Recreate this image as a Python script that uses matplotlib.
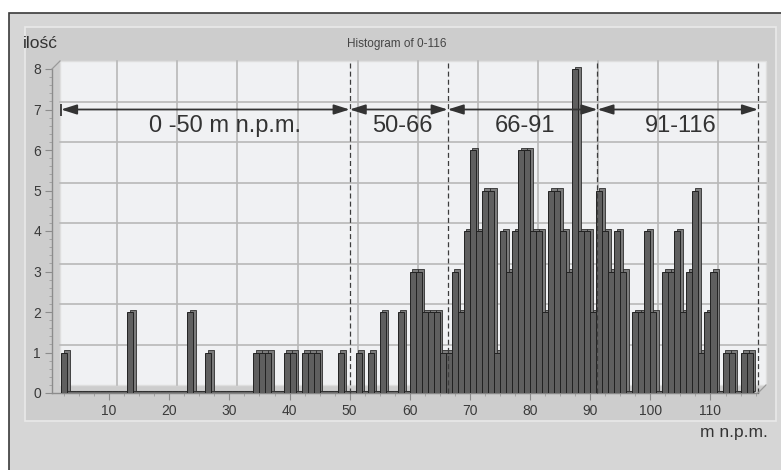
import numpy as np
import matplotlib
matplotlib.use("Agg")
import matplotlib.pyplot as plt
from matplotlib.patches import Rectangle
from matplotlib.lines import Line2D
from matplotlib.ticker import MultipleLocator
from matplotlib.transforms import offset_copy

plt.rcParams['font.family'] = ['Liberation Sans', 'DejaVu Sans']

# histogram bins (left edge, width 1 m) and counts
bin_edges = np.arange(2, 117)
counts = [1, 0, 0, 0, 0, 0, 0, 0, 0, 0, 0, 2, 0, 0, 0, 0, 0, 0, 0, 0, 0,   # 2-22
          2, 0, 0, 1, 0, 0, 0, 0, 0, 0, 0,                                  # 23-33
          1, 1, 1, 0, 0, 1, 1, 0, 1, 1, 1, 0, 0, 0, 1, 0, 0,                # 34-50
          1, 0, 1, 0, 2, 0, 0, 2, 0, 3, 3, 2, 2, 2, 1, 1,                   # 51-66
          3, 2, 4, 6, 4, 5, 5, 1, 4, 3, 4, 6, 6, 4, 4, 2, 5, 5, 4, 3,       # 67-86
          8, 4, 4, 2,                                                       # 87-90
          5, 4, 3, 4, 3, 0, 2, 2, 4, 2, 0, 3, 3, 4, 2, 3, 5, 1, 2, 3,       # 91-110
          0, 1, 1, 0, 1, 1]                                                 # 111-116

# altitude class boundaries (dashed lines) and their labels
boundaries = [2, 50, 66.3, 91.2, 117.9]
class_labels = ['0 -50 m n.p.m.', '50-66', '66-91', '91-116']
label_x = [29.3, 58.7, 79.1, 105.1]
arrow_y = 7
label_y = 6.44

x_min, x_max = 0.5, 117.9
y_max = 8

W, H = 781, 470
fig = plt.figure(figsize=(W / 100, H / 100), dpi=100)
fig.patch.set_facecolor('white')

# outer frame and chart panel
fig.patches.append(Rectangle((9 / W, -0.1), 1.2, 1 - 13 / H + 0.1,
                             transform=fig.transFigure, facecolor='#d6d6d6',
                             edgecolor='#3a3a3a', lw=1.2, zorder=-3))
fig.patches.append(Rectangle((25 / W, 1 - 421 / H), 751 / W, 394 / H,
                             transform=fig.transFigure, facecolor='#cdcdcd',
                             edgecolor='#e9e9e9', lw=1.2, zorder=-2))

ax = fig.add_axes([52 / W, 1 - 393 / H, 706 / W, 324 / H])
ax.patch.set_visible(False)
ax.set_xlim(x_min, x_max)
ax.set_ylim(0, y_max)

# 3D back wall with grid
wall = offset_copy(ax.transData, x=8, y=8, units='dots')
ax.add_patch(Rectangle((x_min, 0), x_max - x_min, y_max, transform=wall,
                       facecolor='#f0f1f3', edgecolor='#dedede', lw=1,
                       zorder=0, clip_on=False))
for xv in range(10, 111, 10):
    ax.plot([xv, xv], [0, y_max], transform=wall, color='#b8b8b8', lw=1.2,
            zorder=0.5, clip_on=False)
for yv in range(1, y_max):
    ax.plot([x_min, x_max], [yv, yv], transform=wall, color='#b8b8b8', lw=1.2,
            zorder=0.5, clip_on=False)

fig.canvas.draw()
for pt in [(x_min, y_max), (x_max, 0)]:
    a = ax.transData.transform(pt)
    b = wall.transform(pt)
    fig.add_artist(Line2D([a[0], b[0]], [a[1], b[1]], transform=None,
                          color='#9a9a9a', lw=0.9))

# bars with a small 3D extrusion; zero bins show as a dark floor strip
shade = offset_copy(ax.transData, x=2.5, y=2.5, units='dots')
ax.plot([bin_edges[0], bin_edges[-1] + 1], [0, 0],
        transform=offset_copy(ax.transData, x=1.2, y=1.2, units='dots'),
        color='#3c3c3c', lw=2.2, solid_capstyle='butt', zorder=2.5,
        clip_on=False)
ax.plot([bin_edges[0], bin_edges[-1] + 1], [0, 0],
        transform=offset_copy(ax.transData, x=1.2, y=1.2, units='dots'),
        color='#6a6a6a', lw=1.0, solid_capstyle='butt', zorder=2.6,
        clip_on=False)
ax.bar(bin_edges, counts, width=1, align='edge', color='#7b7b7b',
       edgecolor='#2e2e2e', lw=0.6, transform=shade, zorder=2.7, clip_on=False)
ax.bar(bin_edges, counts, width=1, align='edge', color='#5f5f5f',
       edgecolor='#222222', lw=0.7, zorder=3)

# class boundaries, arrows and labels
ax.vlines(boundaries[1:], 0, 8.17, colors='#3c3c3c', linestyles=(0, (4, 2.5)),
          lw=0.9, zorder=4, clip_on=False)
for i in range(len(class_labels)):
    ax.annotate('', xy=(boundaries[i + 1], arrow_y), xytext=(boundaries[i], arrow_y),
                arrowprops=dict(arrowstyle='<|-|>,head_length=0.95,head_width=0.3',
                                color='#333333', lw=1.3, shrinkA=0, shrinkB=0),
                zorder=5)
    ax.text(label_x[i], label_y, class_labels[i], ha='center', va='baseline',
            fontsize=17, color='#333333', zorder=6)
ax.plot([boundaries[0]], [arrow_y], marker='|', ms=8, mew=1.3, color='#333333',
        zorder=5)

# axes styling
for s in ['top', 'right']:
    ax.spines[s].set_visible(False)
for s in ['left', 'bottom']:
    ax.spines[s].set_color('#8c8c8c')
    ax.spines[s].set_linewidth(1.0)
ax.set_xticks(range(10, 111, 10))
ax.set_yticks(range(0, y_max + 1))
ax.xaxis.set_minor_locator(MultipleLocator(2.5))
ax.yaxis.set_minor_locator(MultipleLocator(0.2))
ax.tick_params(which='major', length=5, color='#8c8c8c', labelsize=10,
               labelcolor='#3a3a3a', pad=3)
ax.tick_params(which='minor', length=2.5, color='#9c9c9c')

fig.text(397 / W, 1 - 44 / H, 'Histogram of 0-116', ha='center', va='center',
         fontsize=8.5, color='#454545')
fig.text(23 / W, 1 - 43 / H, 'ilość', ha='left', va='center', fontsize=12.5,
         color='#333333')
fig.text(768 / W, 1 - 433 / H, 'm n.p.m.', ha='right', va='center', fontsize=12.5,
         color='#333333')

fig.savefig('out.png', dpi=100)
